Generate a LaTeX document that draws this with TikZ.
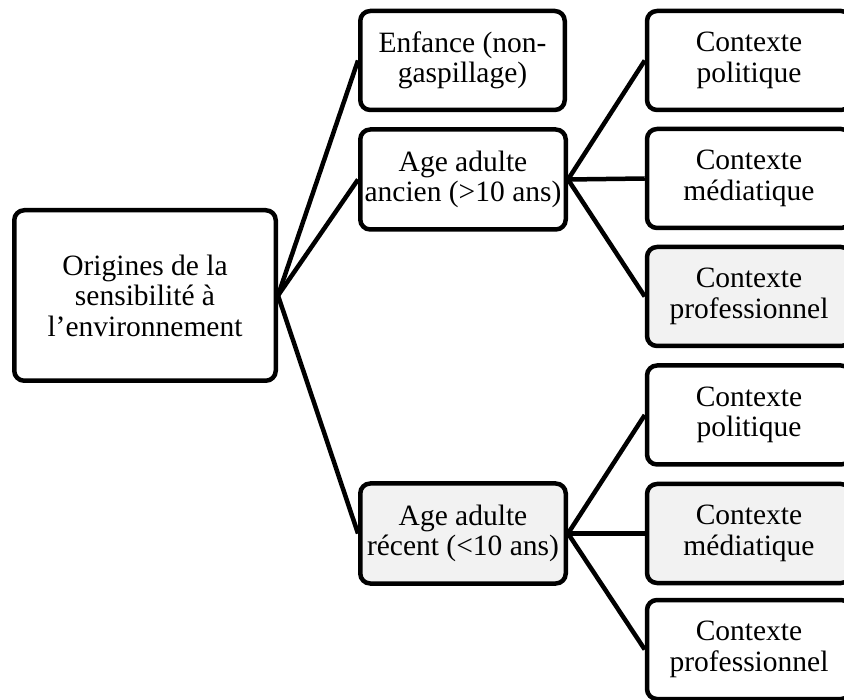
\documentclass[tikz,border=0pt]{standalone}
\usepackage{fontspec}
\setmainfont{Liberation Serif}
\definecolor{lightfill}{HTML}{F2F2F2}
\tikzset{
  box/.style={draw=black, line width=4.5pt, rounded corners=10pt, fill=white,
    align=center, inner sep=2pt, font=\fontsize{29.5}{30.5}\selectfont},
  grey/.style={fill=lightfill},
  conn/.style={draw=black, line width=4.5pt},
}
\begin{document}
\begin{tikzpicture}[x=1pt,y=-1pt]
\useasboundingbox (0,0) rectangle (844,700);
\clip (0,0) rectangle (844,700);
% nodes
\node[box, minimum width=261.5pt, minimum height=170.5pt] (root) at (145,295.5) {Origines de la\\sensibilité à\\l’environnement};
\node[box, minimum width=204.5pt, minimum height=99pt] (enf) at (462.5,60.5) {Enfance (non-\\gaspillage)};
\node[box, minimum width=205.5pt, minimum height=100pt] (anc) at (463,179.5) {Age adulte\\ancien (>10 ans)};
\node[box, grey, minimum width=205.5pt, minimum height=100pt] (rec) at (463,533.5) {Age adulte\\récent (<10 ans)};
\node[box, minimum width=204pt, minimum height=99pt] (a1) at (749,60.5) {Contexte\\politique};
\node[box, minimum width=204pt, minimum height=99pt] (a2) at (749,178.5) {Contexte\\médiatique};
\node[box, grey, minimum width=204pt, minimum height=99pt] (a3) at (749,296.5) {Contexte\\professionnel};
\node[box, minimum width=204pt, minimum height=99pt] (r1) at (749,415) {Contexte\\politique};
\node[box, grey, minimum width=204pt, minimum height=99pt] (r2) at (749,533.5) {Contexte\\médiatique};
\node[box, minimum width=204pt, minimum height=99pt] (r3) at (749,649.5) {Contexte\\professionnel};
% connectors
\draw[conn] (root.east) -- (enf.west);
\draw[conn] (root.east) -- (anc.west);
\draw[conn] (root.east) -- (rec.west);
\draw[conn] (anc.east) -- (a1.west);
\draw[conn] (anc.east) -- (a2.west);
\draw[conn] (anc.east) -- (a3.west);
\draw[conn] (rec.east) -- (r1.west);
\draw[conn] (rec.east) -- (r2.west);
\draw[conn] (rec.east) -- (r3.west);
\end{tikzpicture}
\end{document}
